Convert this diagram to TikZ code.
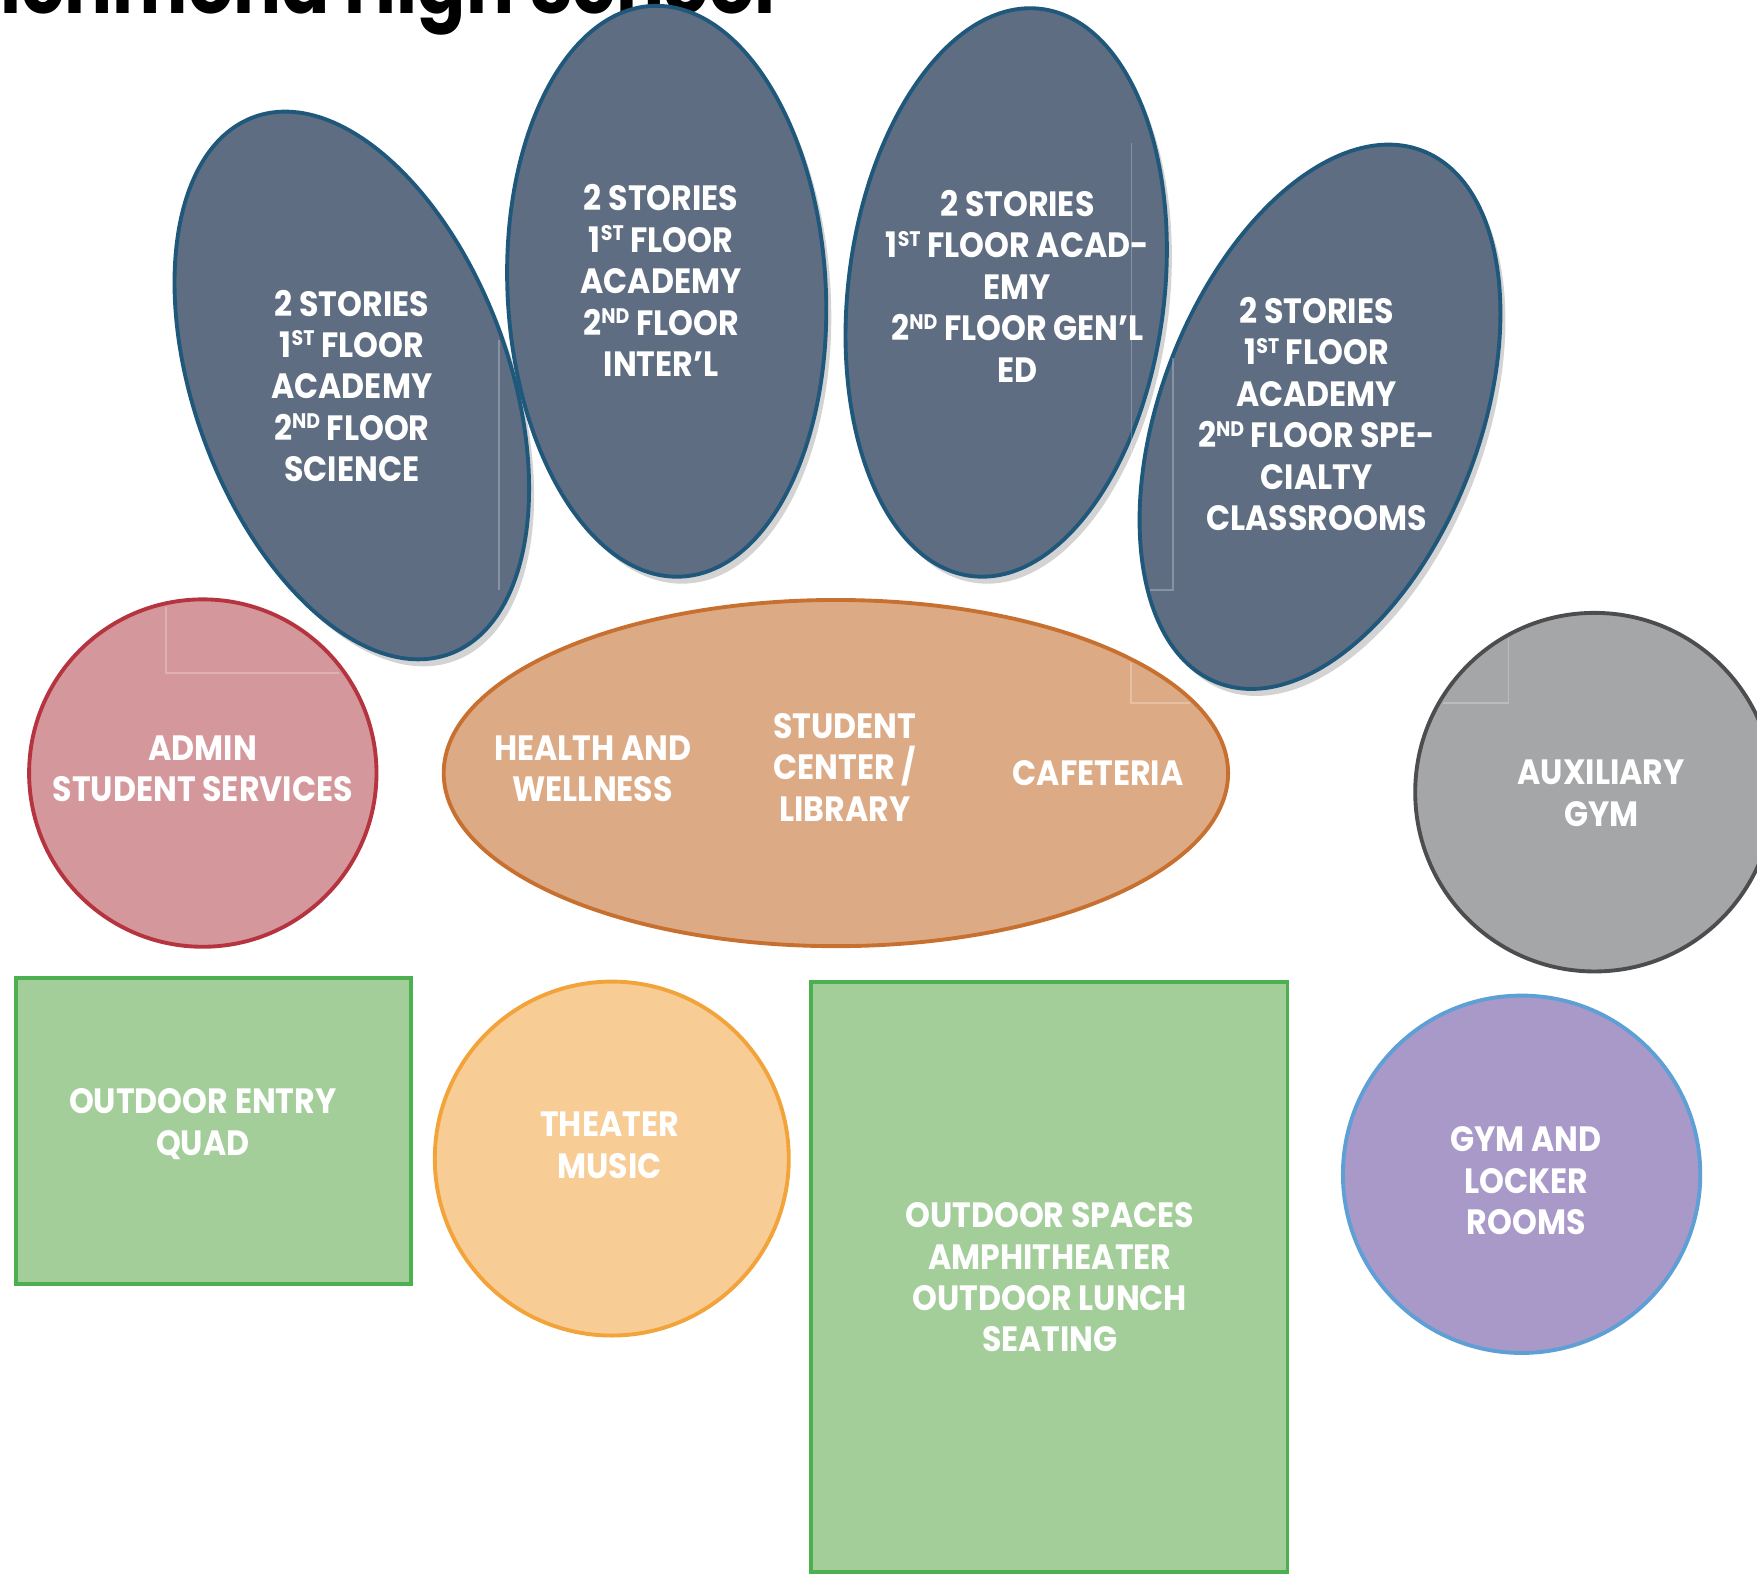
\documentclass[tikz,border=0pt]{standalone}
\usepackage{fontspec}
\setmainfont{Poppins}[FakeStretch=0.9]
\usetikzlibrary{shadows}
\definecolor{slate}{HTML}{5E6D82}
\definecolor{slateline}{HTML}{1F587A}
\definecolor{tanfill}{HTML}{DCAB86}
\definecolor{tanline}{HTML}{C8702F}
\definecolor{rosefill}{HTML}{D4979B}
\definecolor{roseline}{HTML}{B5343F}
\definecolor{grayfill}{HTML}{A5A6A8}
\definecolor{grayline}{HTML}{4D4D4F}
\definecolor{greenfill}{HTML}{A3CE99}
\definecolor{greenline}{HTML}{4CB050}
\definecolor{peachfill}{HTML}{F8CC95}
\definecolor{peachline}{HTML}{F2A33A}
\definecolor{lilacfill}{HTML}{A999C9}
\definecolor{lilacline}{HTML}{5E9FD6}
\newcommand{\ordsup}[1]{\raisebox{0.33em}{\fontsize{6}{6}\selectfont #1}}
\begin{document}
\begin{tikzpicture}[
    tower/.style={fill=slate,draw=slateline,line width=1.1pt,
      drop shadow={shadow xshift=0.05cm,shadow yshift=-0.07cm,opacity=0.35}},
    ghost/.style={draw=white,opacity=0.25,line width=0.4pt}]
\useasboundingbox (0,0) rectangle (17.57,15.74);
\node (title) [anchor=base west,inner sep=0pt,font=\fontsize{22.5}{27}\selectfont\bfseries] at (0,15.60) {\llap{R}ichmond High School};

\begin{scope}[line width=1.1pt]
	\path [fill=tanfill,draw=tanline] (8.359,8.009) ellipse [x radius=3.922,y radius=1.731];
	\path [fill=rosefill,draw=roseline] (2.028,8.009) circle [radius=1.737];
	\path [fill=grayfill,draw=grayline] (15.945,7.818) circle [radius=1.793];
	\path [fill=peachfill,draw=peachline] (6.118,4.154) circle [radius=1.77];
	\path [fill=lilacfill,draw=lilacline] (15.216,3.997) circle [radius=1.787];
	\path [fill=greenfill,draw=greenline] (0.157,2.899) rectangle (4.112,5.958);
	\path [fill=greenfill,draw=greenline] (8.112,0.02) rectangle (12.875,5.924);
\end{scope}

\path [tower,rotate around={20:(3.518,11.885)}] (3.518,11.885) ellipse [x radius=1.574,y radius=2.857];
\path [tower,rotate around={3:(6.667,12.827)}] (6.667,12.827) ellipse [x radius=1.591,y radius=2.857];
\path [tower,rotate around={-7:(10.062,12.815)}] (10.062,12.815) ellipse [x radius=1.58,y radius=2.857];
\path [tower,rotate around={-21:(13.20,11.572)}] (13.20,11.572) ellipse [x radius=1.593,y radius=2.85];

%\draw [ghost] (5.356,14.62) -- (5.356,12.0);
\draw [ghost] (4.99,12.34) -- (4.99,9.84);
\draw [ghost] (11.317,14.31) -- (11.317,11.04);
\draw [ghost] (11.73,12.16) -- (11.73,9.84) -- (11.50,9.84);
\draw [ghost] (1.66,9.67) -- (1.66,9.01) -- (3.39,9.01);
\draw [ghost] (11.31,9.11) -- (11.31,8.71) -- (11.90,8.71);
\draw [ghost] (15.085,9.36) -- (15.085,8.71) -- (14.43,8.71);

\begin{scope}[every node/.style={text=white,align=center,inner sep=0pt,
		font=\fontsize{10}{11.8}\selectfont\bfseries}]
	\node (science) at (3.518,11.88) {2 STORIES\\1\ordsup{ST} FLOOR\\ACADEMY\\2\ordsup{ND} FLOOR\\SCIENCE};
	\node (interl) at (6.611,12.933) {2 STORIES\\1\ordsup{ST} FLOOR\\ACADEMY\\2\ordsup{ND} FLOOR\\INTER’L};
	\node (genled) at (10.174,12.877) {2 STORIES\\1\ordsup{ST} FLOOR ACAD-\\EMY\\2\ordsup{ND} FLOOR GEN’L\\ED};
	\node (specialty) at (13.166,11.60) {2 STORIES\\1\ordsup{ST} FLOOR\\ACADEMY\\2\ordsup{ND} FLOOR SPE-\\CIALTY\\CLASSROOMS};
	\node (health) at (5.927,8.053) {HEALTH AND\\WELLNESS};
	\node (library) at (8.449,8.065) {STUDENT\\CENTER /\\LIBRARY};
	\node (cafeteria) at (10.981,8.009) {CAFETERIA};
	\node (admin) at (2.028,8.053) {ADMIN\\STUDENT SERVICES};
	\node (auxgym) at (16.012,7.807) {AUXILIARY\\GYM};
	\node (quad) at (2.028,4.501) {OUTDOOR ENTRY\\QUAD};
	\node (theater) at (6.096,4.288) {THEATER\\MUSIC};
	\node (gym) at (15.261,3.93) {GYM AND\\LOCKER\\ROOMS};
	\node (outdoor) at (10.499,2.966) {OUTDOOR SPACES\\AMPHITHEATER\\OUTDOOR LUNCH\\SEATING};
\end{scope}
\end{tikzpicture}
\end{document}
